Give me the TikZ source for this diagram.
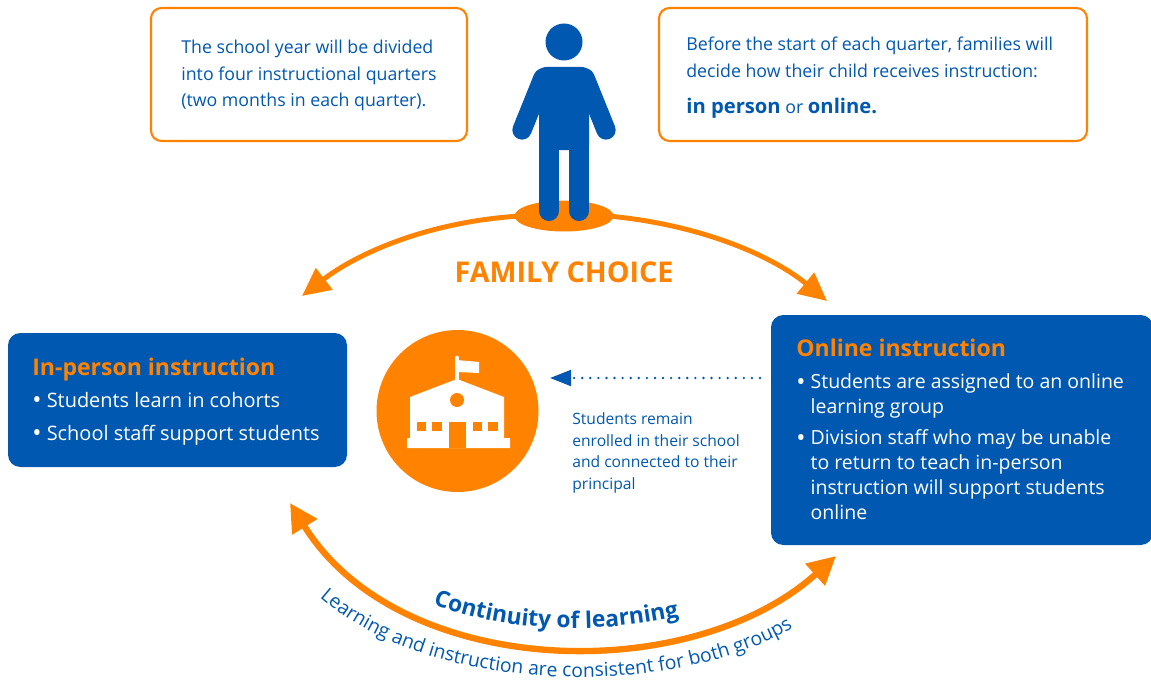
\documentclass[tikz,border=0pt]{standalone}
\usepackage{fontspec}
\setmainfont{Open Sans}
\usetikzlibrary{arrows.meta,decorations.text,shapes.geometric}
\definecolor{azul}{HTML}{0058B0}
\definecolor{naranja}{HTML}{FF8200}
\newcommand{\punto}{\raisebox{-0.9pt}{\fontsize{14}{14}\selectfont\textbullet}\ }
\newcommand{\sangria}{\phantom{\punto}}
\begin{document}
\begin{tikzpicture}[x=0.02cm, y=-0.02cm,
    avisobox/.style={draw=naranja, line width=1.2pt, rounded corners=6pt, fill=white},
    avisotext/.style={text=azul, align=left, anchor=west, inner sep=0pt, font=\fontsize{10.1}{15}\selectfont},
    grupobox/.style={fill=azul, rounded corners=7pt},
    grupotext/.style={text=white, align=left, anchor=west, inner sep=0pt, font=\fontsize{11.1}{14.2}\selectfont},
    flecha/.style={draw=naranja, line width=3.6pt, {Triangle[length=16pt,width=16pt]}-{Triangle[length=16pt,width=16pt]}},
    flechauna/.style={draw=naranja, line width=2.8pt, -{Triangle[length=16pt,width=15pt]}}]
    \useasboundingbox (0,0) rectangle (1151,679);

    % top boxes
    \node[avisobox, minimum width=316*0.02cm, minimum height=133*0.02cm] (year) at (309,74.5) {};
    \node[avisotext] (yearText) at (181,75.5) {The school year will be divided\\into four instructional quarters\\(two months in each quarter).};
    \node[avisobox, minimum width=428*0.02cm, minimum height=133*0.02cm] (decide) at (873,74.5) {};
    \node[avisotext] (decideText) at (686,78) {Before the start of each quarter, families will\\decide how their child receives instruction:\\[6pt]{\fontsize{11.5}{15}\selectfont\bfseries in person} or {\fontsize{11.5}{15}\selectfont\bfseries online.}};

    % family choice arcs
    \coordinate (inTip) at (302,296);
    \coordinate (onTip) at (827,301);
    \node[ellipse, fill=naranja, minimum width=99*0.02cm, minimum height=31*0.02cm, inner sep=0pt, outer sep=0pt] (base) at (564,216) {};
    \draw[flechauna] ([xshift=3]base.west) .. controls (425,222) and (355,255) .. (inTip);
    \draw[flechauna] ([xshift=-3]base.east) .. controls (705,225) and (775,258) .. (onTip);
    \node[text=naranja, font=\fontsize{16.3}{18}\selectfont\bfseries] (choice) at (564,272) {FAMILY CHOICE};

    % person
    \node[circle, fill=azul, minimum size=37*0.02cm, inner sep=0pt] (head) at (564,42) {};
    \fill[azul, rounded corners=3pt] (541,67) -- (587,67) -- (594,75) -- (589,110) -- (589,150) -- (539,150) -- (539,110) -- (534,75) -- cycle;
    \draw[azul, line width=11pt, line cap=round] (543,78) -- (522,130);
    \draw[azul, line width=11pt, line cap=round] (585,78) -- (606,130);
    \draw[azul, line width=11.4pt, line cap=round] (549,140) -- (549,211);
    \draw[azul, line width=11.4pt, line cap=round] (579,140) -- (579,211);

    % groups
    \node[grupobox, minimum width=339*0.02cm, minimum height=134*0.02cm] (person) at (177.5,400) {};
    \node[grupotext, font=\fontsize{11.35}{14.2}\selectfont] (personText) at (32,401.5) {{\fontsize{13.1}{18}\selectfont\bfseries\color{naranja}In-person instruction}\\[4pt]\punto Students learn in cohorts\\[4.5pt]\punto School staff support students};
    \node[grupobox, minimum width=382*0.02cm, minimum height=230*0.02cm] (online) at (962,430) {};
    \node[grupotext] (onlineText) at (796,430) {{\fontsize{13.1}{18}\selectfont\bfseries\color{naranja}Online instruction}\\[4.5pt]\punto Students are assigned to an online\\\sangria learning group\\[3.5pt]\punto Division staff who may be unable\\\sangria to return to teach in-person\\\sangria instruction will support students\\\sangria online};

    % school
    \node[circle, fill=naranja, minimum size=162*0.02cm, inner sep=0pt] (school) at (457.5,411) {};
    \fill[white] (410,397) -- (457,379) -- (504,397) -- (504,438) -- (510,438) -- (510,448) -- (407,448) -- (407,438) -- (410,438) -- cycle;
    \draw[white, line width=2.6pt, line cap=round] (457,379) -- (457,358);
    \fill[white] (457,360) -- (479,362) -- (479,373) -- (457,372) -- cycle;
    \fill[naranja] (449,422) rectangle (466,448);
    \fill[naranja] (457,400) circle (7);
    \fill[naranja] (417,422) rectangle (426,431);
    \fill[naranja] (432,422) rectangle (442,431);
    \fill[naranja] (473,422) rectangle (482,431);
    \fill[naranja] (488,422) rectangle (498,431);

    % link to school
    \coordinate (dotEnd) at (760,378);
    \coordinate (dotTip) at (550,378);
    \draw[azul, line width=1.5pt, line cap=round, dash pattern=on 0pt off 4.6pt, -{Triangle[length=12pt,width=9pt]}] (dotEnd) -- (dotTip);
    \node[text=azul, align=left, anchor=north west, inner sep=0pt, font=\fontsize{8.9}{12.45}\selectfont] (enrolled) at (572,412) {Students remain\\enrolled in their school\\and connected to their\\principal};

    % continuity arc
    \coordinate (backTip) at (290,503);
    \coordinate (foreTip) at (836,556);
    \draw[flecha] (backTip) .. controls (400,680) and (690,687) .. (foreTip);
    \path[decorate, decoration={text along path, text align=center, text={|\fontsize{13}{16}\selectfont\bfseries\color{azul}|Continuity of learning}}] (430,603) .. controls (510,634) and (600,634) .. (682,616);
    \path[decorate, decoration={text along path, text align=center, text={|\fontsize{11}{14}\selectfont\color{azul}|Learning and instruction are consistent for both groups}}] (316,594) .. controls (430,699) and (680,699) .. (797,625);
\end{tikzpicture}
\end{document}
